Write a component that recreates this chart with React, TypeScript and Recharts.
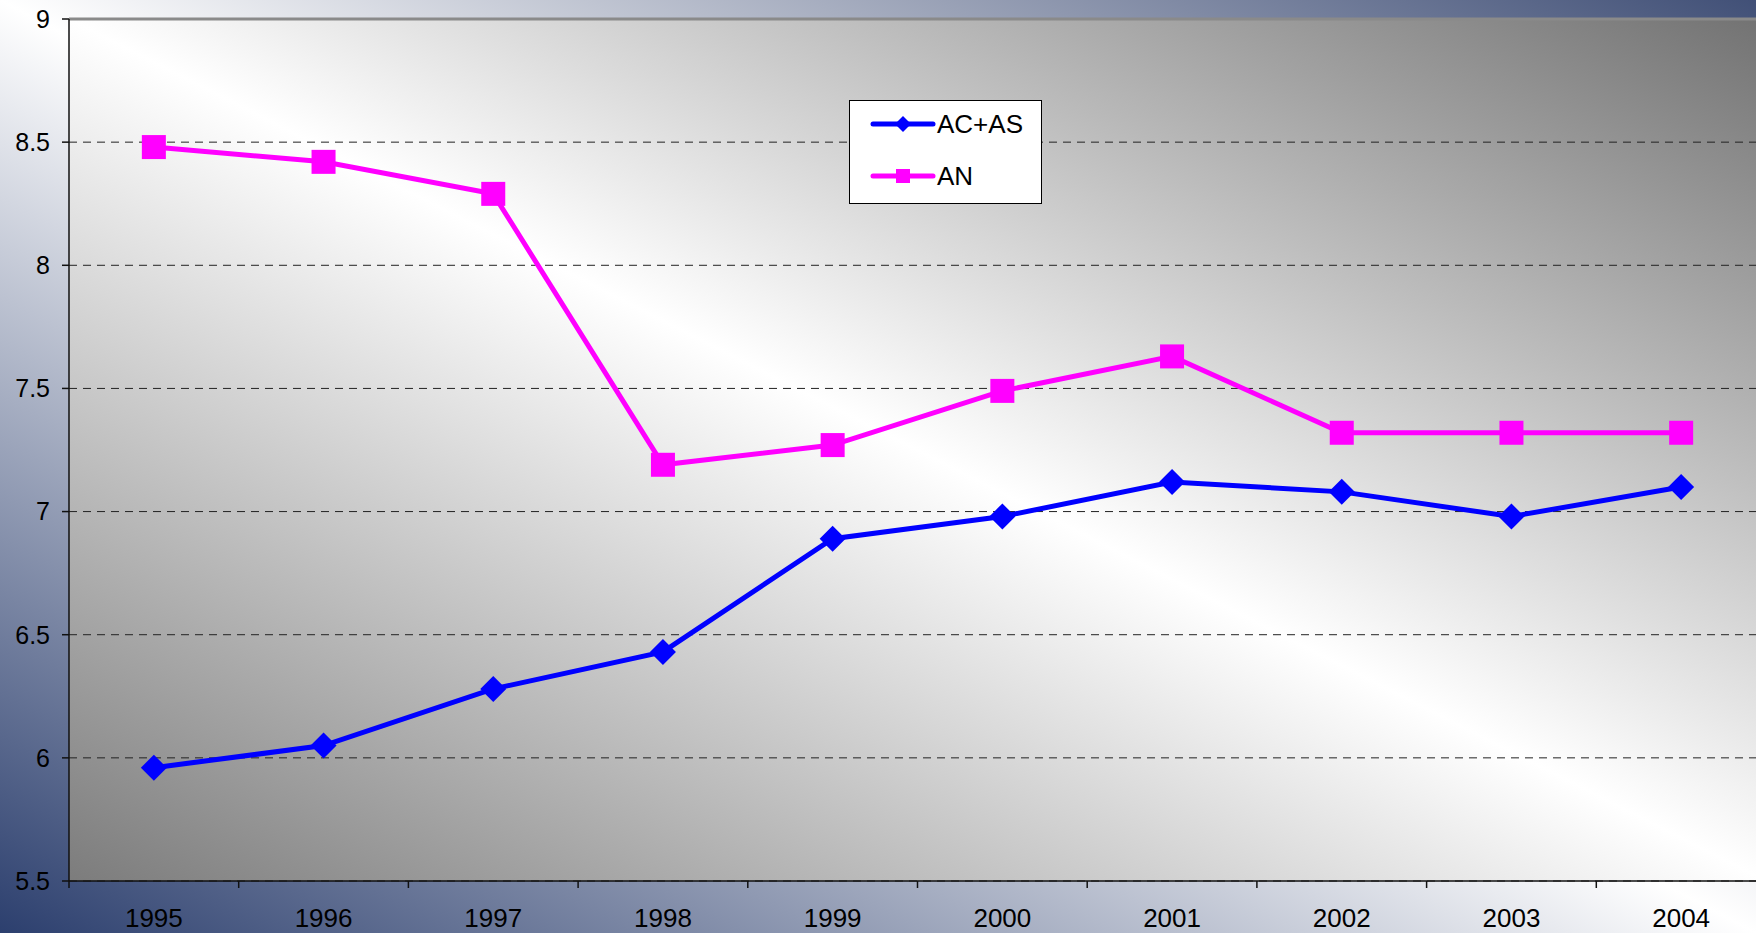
import React from 'react';
import { LineChart, Line, XAxis, YAxis, CartesianGrid, ReferenceLine } from 'recharts';

const years = ['1995', '1996', '1997', '1998', '1999', '2000', '2001', '2002', '2003', '2004'];
const acAs = [5.96, 6.05, 6.28, 6.43, 6.89, 6.98, 7.12, 7.08, 6.98, 7.1];
const an = [8.48, 8.42, 8.29, 7.19, 7.27, 7.49, 7.63, 7.32, 7.32, 7.32];
const yTicks = [5.5, 6, 6.5, 7, 7.5, 8, 8.5, 9];

const seriesNames = { acAs: 'AC+AS', an: 'AN' };
const colors = { acAs: '#0000ff', an: '#ff00ff' };

const data = years.map((y, i) => ({ idx: i, year: y, acAs: acAs[i], an: an[i] }));
const xTicks: number[] = years.flatMap((_, i) => [i - 0.5, i]).concat([years.length - 0.5]);

const FONT = '"Liberation Sans", Arial, Helvetica, sans-serif';

const W = 1780;
const H = 933;

const DiamondDot = (props: any) => {
  const { cx, cy, index } = props;
  if (cx == null || cy == null) return null;
  const r = 13;
  return (
    <polygon
      key={`d-${index}`}
      points={`${cx},${cy - r} ${cx + r},${cy} ${cx},${cy + r} ${cx - r},${cy}`}
      fill={colors.acAs}
      stroke="none"
    />
  );
};

const SquareDot = (props: any) => {
  const { cx, cy, index } = props;
  if (cx == null || cy == null) return null;
  const s = 12;
  return <rect key={`s-${index}`} x={cx - s} y={cy - s} width={s * 2} height={s * 2} fill={colors.an} stroke="none" />;
};

const XTick = (props: any) => {
  const { x, y, payload } = props;
  const v = payload.value;
  if (Number.isInteger(v)) {
    return (
      <text x={x} y={y + 46} textAnchor="middle" fontSize={26} fontFamily={FONT} fill="#000">
        {years[v]}
      </text>
    );
  }
  return <line x1={x} x2={x} y1={y} y2={y + 7} stroke="#111" strokeWidth={1.5} />;
};

const LegendBox = () => (
  <div
    style={{
      position: 'absolute',
      left: 849,
      top: 100,
      width: 193,
      height: 104,
      boxSizing: 'border-box',
      background: '#ffffff',
      border: '1px solid #000',
    }}
  >
    <svg width={193} height={104} style={{ position: 'absolute', left: -1, top: -1 }}>
      <line x1={24} x2={84} y1={24} y2={24} stroke={colors.acAs} strokeWidth={5} strokeLinecap="round" />
      <polygon points={`54,16 62,24 54,32 46,24`} fill={colors.acAs} />
      <text x={88} y={33} fontSize={26} fontFamily={FONT} fill="#000">
        {seriesNames.acAs}
      </text>
      <line x1={24} x2={84} y1={76} y2={76} stroke={colors.an} strokeWidth={5} strokeLinecap="round" />
      <rect x={47} y={69} width={14} height={14} fill={colors.an} />
      <text x={88} y={85} fontSize={26} fontFamily={FONT} fill="#000">
        {seriesNames.an}
      </text>
    </svg>
  </div>
);

export default function App() {
  return (
    <div
      style={{
        position: 'fixed',
        left: 0,
        top: 0,
        width: 1756,
        height: 933,
        overflow: 'hidden',
        background: 'linear-gradient(to top right, #2c3f6e 0%, #ffffff 50%, #415077 100%)',
        fontFamily: FONT,
      }}
    >
      <LineChart width={W} height={H} data={data} margin={{ top: 19, right: 14, bottom: 0, left: 0 }}>
        <defs>
          <linearGradient id="plotBg" x1="0" y1="1" x2="1" y2="0">
            <stop offset="0%" stopColor="#7c7c7c" />
            <stop offset="50%" stopColor="#ffffff" />
            <stop offset="100%" stopColor="#727272" />
          </linearGradient>
        </defs>
        <CartesianGrid
          vertical={false}
          stroke="#222"
          strokeDasharray="8 6"
          fill="url(#plotBg)"
          fillOpacity={1}
        />
        <XAxis
          dataKey="idx"
          type="number"
          domain={[-0.5, years.length - 0.5]}
          ticks={xTicks}
          interval={0}
          height={52}
          tickLine={false}
          tickSize={0}
          tickMargin={0}
          tick={<XTick />}
          axisLine={{ stroke: '#111', strokeWidth: 1.5 }}
        />
        <YAxis
          type="number"
          domain={[5.5, 9]}
          ticks={yTicks}
          interval={0}
          width={69}
          tickSize={7}
          tickMargin={12}
          tick={{ fill: '#000', fontSize: 25, fontFamily: FONT }}
          tickLine={{ stroke: '#111', strokeWidth: 1.5 }}
          axisLine={{ stroke: '#111', strokeWidth: 1.5 }}
        />
        <ReferenceLine y={9} stroke="#8a8a8a" strokeWidth={3} />
        <Line
          type="linear"
          dataKey="an"
          name={seriesNames.an}
          stroke={colors.an}
          strokeWidth={5}
          dot={<SquareDot />}
          activeDot={false}
          isAnimationActive={false}
        />
        <Line
          type="linear"
          dataKey="acAs"
          name={seriesNames.acAs}
          stroke={colors.acAs}
          strokeWidth={5}
          dot={<DiamondDot />}
          activeDot={false}
          isAnimationActive={false}
        />
      </LineChart>
      <LegendBox />
    </div>
  );
}
